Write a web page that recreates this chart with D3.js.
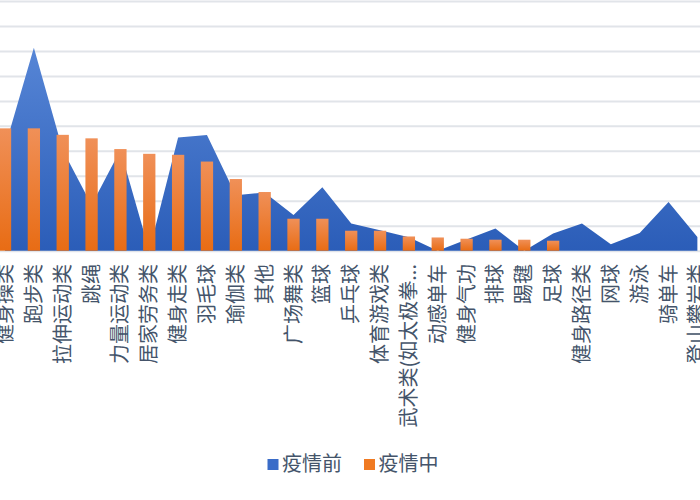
<!DOCTYPE html>
<html>
<head>
<meta charset="utf-8">
<script src="https://cdnjs.cloudflare.com/ajax/libs/d3/7.8.5/d3.min.js"></script>
<style>
  html, body { margin: 0; padding: 0; background: #fff; }
  svg { display: block; }
</style>
</head>
<body>
<div id="viz"></div>
<script>
// categories as on the x axis
var categories = ["健身操类", "跑步类", "拉伸运动类", "跳绳", "力量运动类", "居家劳务类", "健身走类",
  "羽毛球", "瑜伽类", "其他", "广场舞类", "篮球", "乒乓球", "体育游戏类", "武术类(如太极拳...",
  "动感单车", "健身气功", "排球", "踢毽", "足球", "健身路径类", "网球", "游泳", "骑单车", "登山攀岩类"];

// 疫情前 (area) in gridline units
var before = [4.15, 8.13, 4.03, 1.83, 4.03, 0, 4.53, 4.63, 2.22, 2.33, 1.43, 2.54, 1.09,
  0.82, 0.54, 0, 0.45, 0.89, 0, 0.69, 1.09, 0.26, 0.71, 1.95, 0.55];

// 疫情中 (bars)
var during = [4.9, 4.9, 4.64, 4.5, 4.07, 3.88, 3.84, 3.57, 2.87, 2.35, 1.28, 1.28, 0.8,
  0.8, 0.57, 0.53, 0.48, 0.44, 0.44, 0.4, 0, 0, 0, 0, 0];

var yTicks = [0, 1, 2, 3, 4, 5, 6, 7, 8, 9, 10];
var seriesNames = ["疫情前", "疫情中"];

var width = 700;
var height = 500;
var font = "'Noto Sans CJK SC', 'Noto Sans', sans-serif";
var textColor = "#44546a";

var svg = d3.select("#viz")
  .append("svg")
  .attr("width", width)
  .attr("height", height);

var defs = svg.append("defs");

var areaGrad = defs.append("linearGradient")
  .attr("id", "areaGrad")
  .attr("gradientUnits", "userSpaceOnUse")
  .attr("x1", 0).attr("y1", 40)
  .attr("x2", 0).attr("y2", 251);
areaGrad.append("stop").attr("offset", "0%").attr("stop-color", "#5887d7");
areaGrad.append("stop").attr("offset", "100%").attr("stop-color", "#2b5db8");

var barGrad = defs.append("linearGradient")
  .attr("id", "barGrad")
  .attr("x1", 0).attr("y1", 0)
  .attr("x2", 0).attr("y2", 1);
barGrad.append("stop").attr("offset", "0%").attr("stop-color", "#f09058");
barGrad.append("stop").attr("offset", "100%").attr("stop-color", "#e86c14");

// chart is cropped on both sides, so the band range runs past the edges
var x_scale = d3.scaleBand()
  .domain(categories)
  .range([-9.4, 711.8])
  .padding(0);

var y_scale = d3.scaleLinear()
  .domain([0, 10])
  .range([250.7, 1]);

function cx(d) { return x_scale(d) + x_scale.bandwidth() / 2; }

// gridlines
var grid = svg.append("g")
  .attr("class", "grid")
  .call(d3.axisLeft(y_scale).tickValues(yTicks).tickSize(-width).tickFormat(""));
grid.select(".domain").remove();
grid.selectAll(".tick line")
  .attr("stroke", "#e1e4e9")
  .attr("stroke-width", 2);

// area series
var area = d3.area()
  .x(function(d, i) { return cx(categories[i]); })
  .y0(y_scale(0))
  .y1(function(d) { return y_scale(d); });

svg.append("path")
  .datum(before)
  .attr("fill", "url(#areaGrad)")
  .attr("d", area);

// bar series
var barW = x_scale.bandwidth() * 0.426;
svg.selectAll(".bar")
  .data(during)
  .enter()
  .append("rect")
  .attr("class", "bar")
  .attr("x", function(d, i) { return cx(categories[i]) - barW / 2; })
  .attr("y", function(d) { return y_scale(d); })
  .attr("width", barW)
  .attr("height", function(d) { return y_scale(0) - y_scale(d); })
  .attr("fill", "url(#barGrad)");

// category labels, rotated
var x_axis = d3.axisBottom(x_scale).tickSize(0).tickPadding(0);
var xg = svg.append("g")
  .attr("transform", "translate(0,264)")
  .call(x_axis);
xg.select(".domain").remove();
xg.selectAll(".tick text")
  .attr("transform", "rotate(-90)")
  .attr("x", 0)
  .attr("y", 0)
  .attr("dy", "0.35em")
  .style("text-anchor", "end")
  .style("font-family", font)
  .style("font-size", "20px")
  .style("fill", textColor);

// legend
var legendColors = ["#3a6cc8", "#f07a22"];
var legendX = [267.5, 364];
var legend = svg.append("g");
seriesNames.forEach(function(name, i) {
  legend.append("rect")
    .attr("x", legendX[i])
    .attr("y", 459)
    .attr("width", 11)
    .attr("height", 11)
    .attr("fill", legendColors[i]);
  legend.append("text")
    .attr("x", legendX[i] + 14.5)
    .attr("y", 471)
    .style("font-family", font)
    .style("font-size", "20px")
    .style("fill", textColor)
    .text(name);
});
</script>
</body>
</html>
